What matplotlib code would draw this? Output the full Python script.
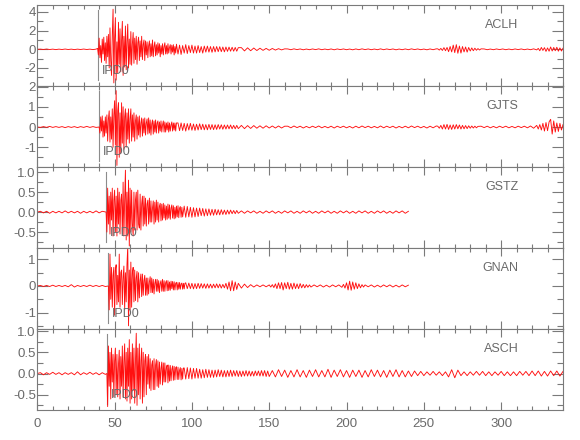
import numpy as np
import matplotlib
matplotlib.use("Agg")
import matplotlib.pyplot as plt
from matplotlib import font_manager
from matplotlib.ticker import MultipleLocator, FormatStrFormatter

# ---------------- data ----------------
stations = ["ACLH", "GJTS", "GSTZ", "GNAN", "ASCH"]
pick_label = "IPD0"
pick_times = [39.3, 40.1, 44.5, 45.9, 45.3]
ylims = [(-3.93, 4.75), (-1.98, 2.03), (-0.9, 1.13), (-1.62, 1.43), (-0.86, 1.05)]

SMALL49 = [0.04, -0.04, 0.05, -0.03, 0.04, -0.05, 0.03, -0.04, 0.04, -0.03,
           0.05, -0.04, 0.03, -0.04, 0.04, -0.05, 0.04, -0.03, 0.04, -0.04,
           0.03, -0.05, 0.04, -0.04, 0.05, -0.03, 0.04, -0.04, 0.03, -0.04,
           0.05, -0.04, 0.04, -0.03, 0.04, -0.05, 0.03, -0.04, 0.04, -0.04,
           0.05, -0.03, 0.04, -0.04, 0.03, -0.05, 0.04, -0.04, 0.05]

# ACLH
ACLH_pre = [0.0, 0.02, -0.02, 0.03, -0.02, 0.02, -0.03, 0.02, -0.02, 0.03,
            -0.02, 0.02, -0.03, 0.02, -0.02, 0.03, -0.02, 0.02, -0.03, 0.02]
ACLH_strong = [0.1, -0.6, 1.2, -0.9, 0.4, -1.4, 1.1, -0.5, 1.3, -1.2,
               0.7, -1.5, 1.4, -0.8, 1.6, -2.0, 2.3, -1.2, -2.8, 1.5,
               4.3, -3.6, 1.2, 3.4, -3.3, 0.8, -2.5, 2.9, -1.6, 2.2,
               -2.4, 1.0, 3.0, -2.8, 1.4, -1.9, 2.5, -2.2, 0.9, 2.7,
               -2.0, 1.1, -1.6, 1.9, -1.7, 0.6, 1.8, -1.5, 1.2, -1.1,
               1.4, -1.6, 0.7, 1.3, -1.2, 0.9, -0.8, 1.4, -1.1, 0.5,
               1.0, -1.2, 0.9, -0.6, 0.8, -0.9, 0.4, 0.9, -0.8, 0.6,
               -0.7, 1.0, -0.8, 0.3, 0.8, -0.7, 0.5, -0.6, 0.7, -0.4,
               0.6, -0.8, 0.4, -0.5, 0.6, -0.6, 0.3, 0.7, -0.5, 0.4,
               -0.5, 0.6, -0.4, 0.2, 0.5, -0.5, 0.45, -0.3, 0.5, -0.6, 0.3, -0.4]
ACLH_mid = [0.55, -0.5, 0.45, -0.55, 0.4, -0.4, 0.5, -0.45, 0.4, -0.35,
            0.45, -0.4, 0.35, -0.4, 0.4, -0.35, 0.3, -0.4, 0.35, -0.3,
            0.35, -0.3, 0.3, -0.32, 0.3, -0.28, 0.3, -0.25, 0.28, -0.25,
            0.25, -0.27, 0.25, -0.22, 0.24, -0.2, 0.22, -0.2, 0.2, -0.2, 0.18]
ACLH_tail1 = [0.18, -0.17, 0.16, -0.15, 0.14, -0.13, 0.12, -0.11, 0.1, -0.1,
              0.09, -0.08, 0.07, -0.06, 0.05] + SMALL49
ACLH_bump = [0.05, -0.08, 0.1, -0.12, 0.18, -0.15, 0.2, -0.25, 0.3, -0.28,
             0.45, -0.35, 0.5, -0.42, 0.35, -0.4, 0.3, -0.28, 0.25, -0.3,
             0.2, -0.18, 0.15, -0.15, 0.12, -0.1, 0.08, -0.07, 0.05]
ACLH_tail2 = [0.04, -0.04, 0.03, -0.04, 0.04, -0.03, 0.04, -0.04, 0.03, -0.04,
              0.04, -0.03, 0.04, -0.04, 0.03, -0.04, 0.05, -0.06]
ACLH_end = [0.1, -0.15, 0.2, -0.12, 0.18, -0.22, 0.15, -0.2, 0.25, -0.18,
            0.2, -0.15, 0.22, -0.2, 0.15, -0.18, 0.12]

# GJTS
GJTS_pre = [0.0, -0.02, 0.02, -0.02, 0.03, -0.02, 0.02, -0.02, 0.02, -0.03,
            0.02, -0.02, 0.02, -0.03, 0.02, -0.02, 0.03, -0.02, 0.02, -0.02]
GJTS_strong = [0.0, -0.3, 0.5, -0.2, 0.55, -0.5, 0.3, -0.45, 0.5, -0.3,
               0.6, -0.7, 0.4, 0.8, -0.75, 0.5, -0.6, 0.9, -1.0, 0.6,
               1.3, -0.9, 1.8, -1.9, 0.8, 1.2, -1.5, 0.7, -1.3, 1.2,
               -0.8, 1.0, -1.1, 0.5, 0.9, -1.0, 0.7, -0.6, 0.9, -0.8,
               0.4, 0.9, -0.7, 0.6, -0.5, 0.7, -0.7, 0.3, 0.6, -0.6,
               0.5, -0.4, 0.55, -0.5, 0.2, 0.45, -0.45, 0.4, -0.3, 0.45,
               -0.4, 0.2, 0.4, -0.35, 0.45, -0.3, 0.35, -0.4, 0.15, 0.35,
               -0.35, 0.3, -0.25, 0.35, -0.3, 0.2, 0.3, -0.3, 0.25, -0.2,
               0.3, -0.25, 0.1, 0.3, -0.25, 0.25, -0.25, 0.2, -0.15, 0.25,
               -0.25, 0.2, -0.2, 0.1, 0.25, -0.2, 0.2, -0.15, 0.2, -0.2]
GJTS_mid = [0.2, 0.2, -0.18, 0.2, -0.17, 0.18, -0.2, 0.17, -0.15, 0.18, -0.16,
            0.15, -0.17, 0.14, -0.15, 0.16, -0.13, 0.14, -0.14, 0.12, -0.14,
            0.13, -0.12, 0.12, -0.13, 0.11, -0.12, 0.12, -0.1, 0.11, -0.11,
            0.1, -0.1, 0.1, -0.09, 0.1, -0.09, 0.08, -0.09, 0.08, -0.08]
GJTS_tail1 = [0.08, -0.08, 0.07, -0.07, 0.07, -0.06, 0.06, -0.06, 0.06, -0.05,
              0.05, -0.05, 0.05, -0.05, 0.04] + SMALL49
GJTS_bump = [0.04, -0.06, 0.08, -0.1, 0.12, -0.1, 0.13, -0.12, 0.1, -0.12,
             0.11, -0.1, 0.12, -0.09, 0.1, -0.1, 0.08, -0.09, 0.07, -0.08,
             0.06, -0.06, 0.05, -0.05, 0.04, -0.04, 0.03]
GJTS_tail2 = [0.04, -0.03, 0.04, -0.04, 0.03, -0.04, 0.04, -0.03, 0.04, -0.04,
              0.03, -0.04, 0.04, -0.03, 0.04, -0.04, 0.05, -0.06, 0.08]
GJTS_end = [-0.1, 0.12, -0.15, 0.18, -0.2, 0.22, -0.18, 0.25, 0.38, -0.35,
            0.3, -0.25, 0.2, -0.22, 0.18, -0.15, 0.12]

# GSTZ
GSTZ_pre = [0.0, 0.02, -0.02, 0.02, -0.03, 0.02, -0.02, 0.02, -0.02, 0.03,
            -0.02, 0.02, -0.02, 0.02, -0.03, 0.02, -0.02, 0.02, -0.02, 0.03,
            -0.02, 0.02]
GSTZ_strong = [0.0, -0.5, 0.6, -0.3, 0.4, -0.55, 0.5, -0.2, 0.6, -0.6,
               0.3, 0.55, -0.5, 0.4, -0.6, 0.6, -0.3, 0.5, -0.55, 0.3,
               0.45, -0.55, 0.75, -0.6, 0.3, 1.05, -0.7, 0.5, -0.6, 0.8,
               -0.85, 0.6, -0.5, 0.55, -0.3, -0.6, 0.5, -0.45, 0.3, 0.5,
               -0.45, 0.55, -0.3, -0.4, 0.45, -0.45, 0.2, 0.4, -0.35, 0.4,
               -0.3, 0.35, -0.35, 0.2, 0.3, -0.3, 0.35, -0.25, 0.28, -0.25,
               0.1, 0.28, -0.3, 0.25, -0.25, 0.3, -0.2, 0.25, -0.25, 0.15,
               0.22, -0.22, 0.2, -0.2, 0.22, -0.15, 0.18, -0.2, 0.15, -0.18,
               0.2, -0.15, 0.18, -0.18, 0.1, 0.18, -0.15, 0.16, -0.17, 0.12,
               -0.15, 0.15, -0.12, 0.16, -0.14, 0.1, 0.14, -0.13, 0.12, -0.12]
GSTZ_mid = [0.15, -0.13, 0.14, -0.12, 0.12, -0.13, 0.11, -0.12, 0.1, -0.11,
            0.1, -0.09, 0.09, -0.1, 0.08, -0.09, 0.08, -0.08, 0.07, -0.08,
            0.07, -0.07, 0.06, -0.07, 0.06, -0.06, 0.05, -0.06, 0.05, -0.05,
            0.05, -0.04, 0.04, -0.04, 0.04, -0.03]
GSTZ_tail = [0.03, -0.03, 0.03, -0.02, 0.03, -0.03, 0.02, -0.03, 0.03, -0.02,
             0.03, -0.03, 0.02, -0.03, 0.03, -0.02, 0.03, -0.03, 0.02, -0.03,
             0.03, -0.02, 0.03, -0.03, 0.02, -0.03, 0.03, -0.02, 0.03, -0.03,
             0.02, -0.03, 0.03, -0.02, 0.03, -0.03, 0.02, -0.03, 0.03, -0.02,
             0.03, -0.03, 0.02, -0.03, 0.03, -0.02, 0.03, -0.03, 0.02, -0.03,
             0.03, -0.02, 0.03, -0.03, 0.02]

# GNAN
GNAN_pre = [0.0, 0.02, -0.02, 0.02, -0.02, 0.03, -0.02, 0.02, -0.02, 0.02,
            -0.03, 0.05, -0.04, 0.02, -0.02, 0.02, -0.02, 0.03, -0.02, 0.02,
            -0.02, 0.02, -0.02]
GNAN_strong = [0.0, -0.9, 1.2, -0.5, 0.7, -0.8, 0.4, 0.7, -1.1, 0.6,
               0.8, -0.7, 0.4, -0.6, 1.2, -0.8, 0.5, 0.6, -0.7, 0.3,
               0.75, -0.9, 0.5, -0.6, 0.8, 1.5, -1.5, 0.6, -0.9, 0.9,
               -0.8, 0.5, 0.7, -0.6, 0.6, -0.55, 0.3, 0.55, -0.6, 0.5,
               -0.45, 0.2, 0.45, -0.4, 0.45, -0.35, 0.2, 0.4, -0.35, 0.3,
               -0.35, 0.3, -0.3, 0.15, 0.35, -0.25, 0.3, -0.25, 0.25, -0.3,
               0.1, 0.25, -0.2, 0.25, -0.2, 0.2, -0.25, 0.1, 0.2, -0.2,
               0.25, -0.2, 0.2, -0.2, 0.12, 0.2, -0.18, 0.2, -0.17, 0.15,
               -0.16, 0.18, -0.1, 0.17, -0.15, 0.16, -0.15, 0.1, 0.14, -0.15,
               0.13, -0.12, 0.13, -0.12, 0.08, 0.11, -0.12, 0.1, -0.11, 0.1]
GNAN_mid = [0.12, -0.1, 0.11, -0.1, 0.1, -0.11, 0.09, -0.1, 0.1, -0.09,
            0.09, -0.08, 0.08, -0.09, 0.08, -0.08, 0.07, -0.08, 0.07, -0.07,
            0.08, -0.07, 0.07, -0.08, 0.06, -0.07, 0.1, -0.12, 0.15, -0.18,
            0.2, -0.18, 0.15, -0.13, 0.1]
GNAN_t1 = [-0.08, 0.07, -0.06, 0.05, -0.04, 0.04, -0.03, 0.04, -0.03, 0.04]
GNAN_b1 = [-0.04, 0.05, -0.06, 0.08, -0.1, 0.12, -0.1, 0.13, -0.15, 0.12,
           -0.1, 0.14, -0.12, 0.1, -0.12, 0.11, -0.1, 0.08, -0.1, 0.09,
           -0.07, 0.06, -0.07, 0.05, -0.05, 0.04, -0.04]
GNAN_t2 = [0.04, -0.03, 0.04, -0.04, 0.03, -0.04, 0.04, -0.03, 0.04, -0.05]
GNAN_b2 = [0.06, -0.08, 0.12, -0.15, 0.18, -0.16, 0.15, -0.12, 0.12, -0.1,
           0.08, -0.07, 0.05, -0.04]
GNAN_t3 = [0.04, -0.03, 0.04, -0.04, 0.03, -0.04, 0.04, -0.03, 0.04, -0.04,
           0.03, -0.04, 0.04, -0.03, 0.03]

# ASCH
ASCH_pre = [0.0, 0.02, -0.03, 0.02, -0.02, 0.03, -0.02, 0.02, -0.03, 0.02,
            -0.02, 0.02, -0.03, 0.04, -0.03, 0.02, -0.02, 0.03, -0.02, 0.02,
            -0.03, 0.02, -0.02]
ASCH_strong = [0.0, -0.78, 0.65, -0.3, 0.5, -0.6, 0.6, -0.2, 0.45, -0.55,
               0.3, 0.6, -0.5, 0.45, -0.55, 0.2, 0.55, -0.6, 0.4, -0.3,
               0.65, -0.55, 0.3, 0.7, -0.6, 0.5, -0.65, 0.6, -0.3, 0.8,
               -0.7, 0.5, -0.6, 0.7, -0.4, 0.6, -0.7, 0.3, 0.95, -0.75,
               0.6, -0.5, 0.7, -0.6, 0.3, 0.6, -0.7, 0.5, -0.55, 0.3,
               0.45, -0.5, 0.4, -0.25, 0.45, -0.35, 0.35, -0.4, 0.2, 0.3,
               -0.38, 0.35, -0.38, 0.2, 0.33, -0.3, 0.3, -0.33, 0.27, -0.25,
               0.12, 0.27, -0.27, 0.25, -0.2, 0.25, -0.2, 0.14, 0.2, -0.22,
               0.2, -0.18, 0.19, -0.17, 0.1, 0.18, -0.16, 0.17, -0.15, 0.14,
               0.16, -0.14, 0.15, -0.14, 0.08, 0.14, -0.15, 0.12, -0.13, 0.13]
ASCH_mid = [0.13, -0.13, 0.14, -0.12, 0.13, -0.13, 0.12, -0.11, 0.12, -0.11,
            0.1, -0.11, 0.09, -0.1, 0.1, -0.09, 0.09, -0.09, 0.08, -0.09,
            0.08, -0.08, 0.09, -0.07, 0.08, -0.08, 0.07, -0.08, 0.07, -0.07,
            0.08, -0.07, 0.07, -0.06, 0.07, -0.07, 0.06, -0.07, 0.06, -0.06,
            0.07, -0.06, 0.06, -0.06, 0.05, -0.06, 0.06, -0.05, 0.06, -0.06,
            0.07, -0.06, 0.07, -0.07, 0.06, -0.07]
ASCH_tail = [0.07, -0.08, 0.09, -0.07, 0.08, -0.09, 0.07, -0.08, 0.09, -0.08,
             0.07, -0.09, 0.08, -0.07, 0.09, -0.08, 0.07, -0.08, 0.1, -0.09,
             0.08, -0.07, 0.09, -0.08, 0.07, -0.09, 0.08, -0.07, 0.08, -0.09,
             0.07, -0.08, 0.09, -0.07, 0.08, -0.08, 0.07, -0.09, 0.08, -0.07,
             0.09, -0.08, 0.07, -0.08, 0.06, -0.07, 0.06, -0.05, 0.05, -0.05,
             0.04, -0.04, 0.05, -0.04, 0.04, -0.05, 0.04,
             -0.08, 0.09, -0.1, 0.08,
             -0.05, 0.04, -0.05, 0.04, -0.04, 0.05, -0.04, 0.05, -0.05, 0.04,
             -0.05, 0.04, -0.04, 0.05, -0.05, 0.04, -0.05, 0.04, -0.05, 0.05,
             -0.04, 0.05, -0.05, 0.06, -0.05, 0.06, -0.06, 0.05, -0.06, 0.06,
             -0.05, 0.06, -0.06, 0.05]

# (start time, sample step) of each segment
traces = {
    "ACLH": [(0, 2, ACLH_pre), (39, 0.5, ACLH_strong), (90, 1, ACLH_mid),
             (132, 2, ACLH_tail1), (259, 1, ACLH_bump), (289, 2, ACLH_tail2),
             (324, 1, ACLH_end)],
    "GJTS": [(0, 2, GJTS_pre), (40, 0.5, GJTS_strong), (90, 1, GJTS_mid),
             (132, 2, GJTS_tail1), (259, 1, GJTS_bump), (287, 2, GJTS_tail2),
             (324, 1, GJTS_end)],
    "GSTZ": [(0, 2, GSTZ_pre), (44.5, 0.5, GSTZ_strong), (95, 1, GSTZ_mid),
             (132, 2, GSTZ_tail)],
    "GNAN": [(0, 2, GNAN_pre), (46, 0.5, GNAN_strong), (96, 1, GNAN_mid),
             (132, 2, GNAN_t1), (151, 1, GNAN_b1), (179, 2, GNAN_t2),
             (198, 1, GNAN_b2), (212, 2, GNAN_t3)],
    "ASCH": [(0, 2, ASCH_pre), (45, 0.5, ASCH_strong), (95, 1, ASCH_mid),
             (152, 2, ASCH_tail)],
}
ytick_major = [2, 1, 0.5, 1, 0.5]
ytick_minor = [1, 0.5, 0.25, 0.5, 0.25]
ytick_fmt = ["%d", "%d", "%.1f", "%d", "%.1f"]

# ---------------- styling ----------------
avail = {f.name for f in font_manager.fontManager.ttflist}
fam = "Liberation Sans Narrow" if "Liberation Sans Narrow" in avail else "Liberation Sans"
plt.rcParams["font.family"] = [fam, "DejaVu Sans"]
plt.rcParams["axes.unicode_minus"] = True
gray = "#7a7a7a"
tcol = "#6a6a6a"

W, H = 580, 440
fig = plt.figure(figsize=(W / 100, H / 100), dpi=100)
left, right = 37.3, 563.0
edges = [5, 86, 167, 248, 329, 410]

for i, st in enumerate(stations):
    top_px, bot_px = edges[i], edges[i + 1]
    ax = fig.add_axes([left / W, 1 - bot_px / H, (right - left) / W, (bot_px - top_px) / H])
    t_all, v_all = [], []
    for (t0, dt, vals) in traces[st]:
        t_all.append(t0 + dt * np.arange(len(vals)))
        v_all.append(np.asarray(vals, dtype=float))
    t = np.concatenate(t_all)
    v = np.concatenate(v_all)
    ax.axvline(pick_times[i], ymin=0.07, ymax=0.94, color="#8c8c8c", lw=0.8, zorder=1)
    ax.plot(t, v, color="#ff1010", lw=0.65, zorder=2)
    ax.set_xlim(0, 340)
    ax.set_ylim(*ylims[i])
    ax.text(pick_times[i] + 2.3, 0.18, pick_label, transform=ax.get_xaxis_transform(),
            color=tcol, fontsize=9, va="center", ha="left", zorder=3)
    ax.text(0.915, 0.75, st, transform=ax.transAxes, color=tcol, fontsize=9,
            ha="right", va="center")
    for s in ax.spines.values():
        s.set_color(gray)
        s.set_linewidth(0.8)
    ax.xaxis.set_major_locator(MultipleLocator(50))
    ax.xaxis.set_minor_locator(MultipleLocator(10))
    ax.yaxis.set_major_locator(MultipleLocator(ytick_major[i]))
    ax.yaxis.set_minor_locator(MultipleLocator(ytick_minor[i]))
    ax.yaxis.set_major_formatter(FormatStrFormatter(ytick_fmt[i]))
    ax.tick_params(axis="both", which="both", direction="in", colors=gray,
                   labelcolor=tcol, labelsize=9.5, width=0.8,
                   top=True, bottom=True, left=True, right=True)
    ax.tick_params(axis="x", which="major", length=6)
    ax.tick_params(axis="x", which="minor", length=3)
    ax.tick_params(axis="y", which="major", length=8)
    ax.tick_params(axis="y", which="minor", length=4)
    ax.tick_params(axis="y", pad=1)
    if i < len(stations) - 1:
        ax.tick_params(axis="x", labelbottom=False)
    else:
        ax.tick_params(axis="x", pad=6)

fig.savefig("out.png", dpi=100)
